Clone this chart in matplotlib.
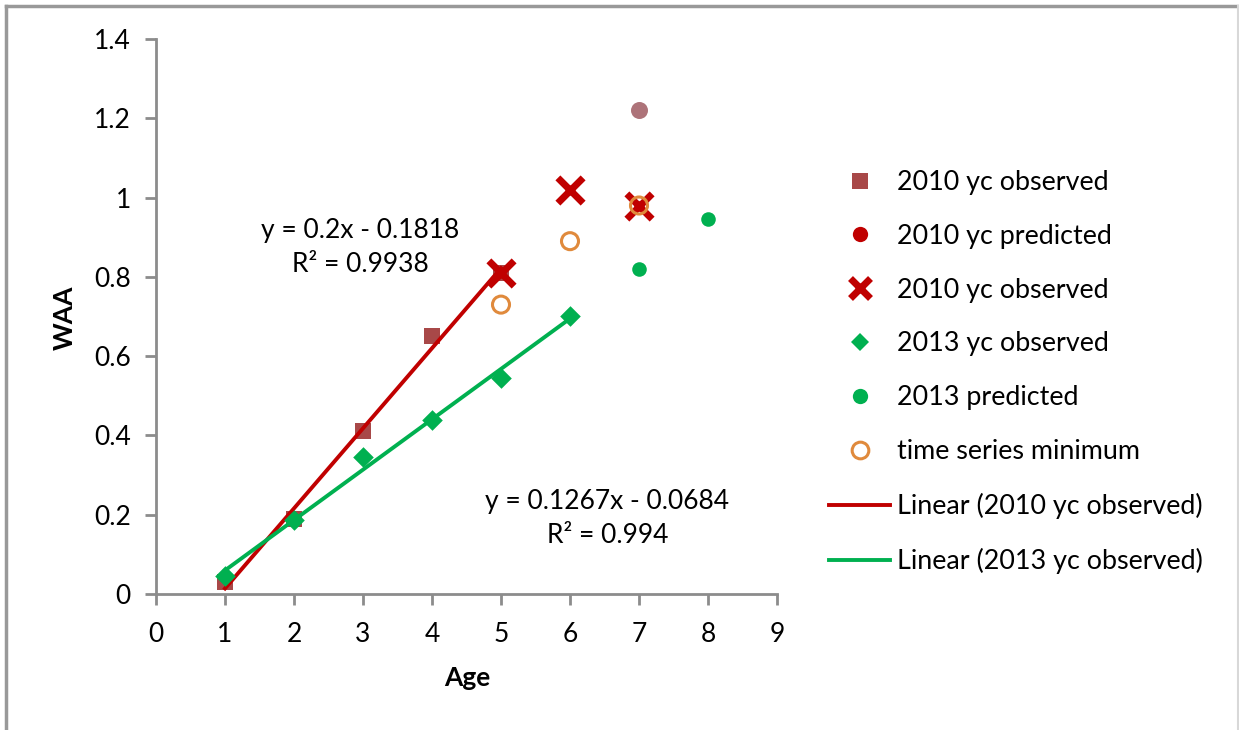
import matplotlib
matplotlib.use("Agg")
import matplotlib.pyplot as plt
import numpy as np
from matplotlib.lines import Line2D

# ---- data ----
age_2010_obs = [1, 2, 3, 4, 5]
waa_2010_obs = [0.03, 0.19, 0.41, 0.65, 0.81]

age_2010_pred = [7]
waa_2010_pred = [0.98]

age_2010_x = [5, 6, 7]
waa_2010_x = [0.81, 1.02, 0.98]

age_2010_extra = [7]
waa_2010_extra = [1.22]

age_2013_obs = [1, 2, 3, 4, 5, 6]
waa_2013_obs = [0.045, 0.187, 0.346, 0.439, 0.545, 0.701]

age_2013_pred = [7, 8]
waa_2013_pred = [0.82, 0.945]

age_tsmin = [5, 6, 7]
waa_tsmin = [0.73, 0.89, 0.98]

eq_2010 = "y = 0.2x - 0.1818\nR² = 0.9938"
eq_2013 = "y = 0.1267x - 0.0684\nR² = 0.994"

legend_labels = ["2010 yc observed", "2010 yc predicted", "2010 yc observed",
                 "2013 yc observed", "2013 predicted", "time series minimum",
                 "Linear (2010 yc observed)", "Linear (2013 yc observed)"]

C_SQ = "#A84848"
C_RED = "#C00000"
C_GREEN = "#00B050"
C_ORANGE = "#E08A3C"
C_MAUVE = "#AD7379"

tf = ["Lato", "DejaVu Sans"]

W, H = 1239, 730
fig = plt.figure(figsize=(W / 100, H / 100), dpi=100)
ax = fig.add_axes([156 / W, 1 - 594 / H, (777 - 156) / W, (594 - 39) / H])

# trend lines
p10 = np.polyfit(age_2010_obs, waa_2010_obs, 1)
p13 = np.polyfit(age_2013_obs, waa_2013_obs, 1)
x10 = np.array([min(age_2010_obs), max(age_2010_obs)])
x13 = np.array([min(age_2013_obs), max(age_2013_obs)])

ax.scatter(age_2010_obs, waa_2010_obs, marker="s", s=120, color=C_SQ, zorder=3, linewidths=0)
ax.plot(x10, np.polyval(p10, x10), color=C_RED, lw=2.8, zorder=4)
ax.scatter(age_2013_obs, waa_2013_obs, marker="D", s=110, color=C_GREEN, zorder=5, linewidths=0)
ax.plot(x13, np.polyval(p13, x13), color=C_GREEN, lw=2.8, zorder=6)
ax.scatter(age_2013_pred, waa_2013_pred, marker="o", s=110, color=C_GREEN, zorder=5, linewidths=0)
ax.scatter(age_2010_extra, waa_2010_extra, marker="o", s=150, color=C_MAUVE, zorder=5, linewidths=0)
ax.scatter(age_2010_x, waa_2010_x, marker="x", s=330, color=C_RED, linewidths=5, zorder=6)
ax.scatter(age_tsmin, waa_tsmin, marker="o", s=150, facecolors="none", edgecolors=C_ORANGE, linewidths=2.2, zorder=7)
ax.scatter(age_2010_pred, waa_2010_pred, marker="o", s=50, color=C_RED, zorder=8, linewidths=0)

ax.set_xlim(0, 9)
ax.set_ylim(0, 1.4)
ax.set_xticks(range(0, 10))
ax.set_yticks([0, 0.2, 0.4, 0.6, 0.8, 1.0, 1.2, 1.4])
ax.set_yticklabels(["0", "0.2", "0.4", "0.6", "0.8", "1", "1.2", "1.4"])
for s in ["top", "right"]:
    ax.spines[s].set_visible(False)
for s in ["left", "bottom"]:
    ax.spines[s].set_color("#8C8C8C")
    ax.spines[s].set_linewidth(2)
ax.tick_params(axis="both", colors="#8C8C8C", width=2, length=8, labelcolor="black",
               labelsize=19)
for lab in ax.get_xticklabels() + ax.get_yticklabels():
    lab.set_family(tf)
ax.tick_params(axis="y", pad=10)
ax.tick_params(axis="x", pad=12)

fig.text(467 / W, 1 - 678 / H, "Age", ha="center", va="center", fontsize=19,
         fontweight="bold", family=tf)
fig.text(65 / W, 1 - 318 / H, "WAA", ha="center", va="center", fontsize=19,
         fontweight="bold", family=tf, rotation=90)

ax.text(2.96, 0.873, eq_2010, ha="center", va="center", fontsize=19, family=tf,
        linespacing=1.45)
ax.text(6.54, 0.19, eq_2013, ha="center", va="center", fontsize=19, family=tf,
        linespacing=1.45)

handles = [
    Line2D([], [], ls="none", marker="s", ms=11, color=C_SQ, mew=0),
    Line2D([], [], ls="none", marker="o", ms=11, color=C_RED, mew=0),
    Line2D([], [], ls="none", marker="x", ms=14, color=C_RED, mew=5),
    Line2D([], [], ls="none", marker="D", ms=9, color=C_GREEN, mew=0),
    Line2D([], [], ls="none", marker="o", ms=11, color=C_GREEN, mew=0),
    Line2D([], [], ls="none", marker="o", ms=12, mfc="none", mec=C_ORANGE, mew=2.2),
    Line2D([], [], color=C_RED, lw=2.8),
    Line2D([], [], color=C_GREEN, lw=2.8),
]
leg = fig.legend(handles, legend_labels, loc="upper left", bbox_to_anchor=(829 / W, 1 - 170 / H),
                 frameon=False, prop={"family": tf, "size": 19.4}, labelspacing=1.07,
                 handlelength=2.27, handletextpad=0.26, borderpad=0, borderaxespad=0)

# figure frame
fig.add_artist(Line2D([6 / W, 6 / W], [0, 1 - 6 / H], transform=fig.transFigure, color="#999999", lw=2.5))
fig.add_artist(Line2D([6 / W, 1], [1 - 6 / H, 1 - 6 / H], transform=fig.transFigure, color="#999999", lw=2.5))
fig.add_artist(Line2D([1237.5 / W, 1237.5 / W], [0, 1 - 6 / H], transform=fig.transFigure, color="#D8D8D8", lw=1.5))

fig.savefig("out.png", dpi=100)
